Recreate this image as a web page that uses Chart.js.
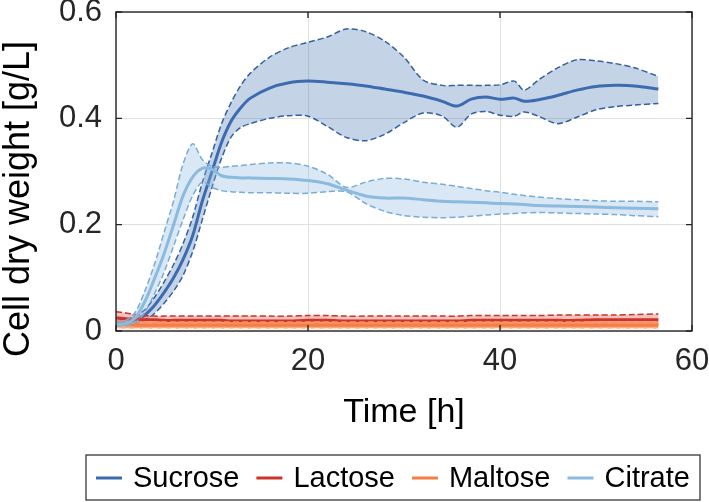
<!DOCTYPE html>
<html><head><meta charset="utf-8">
<script src="https://cdn.jsdelivr.net/npm/chart.js@4.4.0/dist/chart.umd.min.js"></script>
<style>html,body{margin:0;padding:0;background:#fff;}#wrap{width:709px;height:502px;}</style>
</head><body><div id="wrap"><canvas id="c" width="709" height="502"></canvas></div>
<script>
const seriesNames = ['Sucrose','Lactose','Maltose','Citrate'];
const xTicks = [0,20,40,60];
const yTicks = [0,0.2,0.4,0.6];
const xTitle = 'Time [h]';
const yTitle = 'Cell dry weight [g/L]';
const time = [0,1,2,3,4,5,6,7,8,9,10,11,12,13,14,16,18,20,22,24,26,28,30,32,34,35.5,37,38.5,40,41.5,42.5,44,46,48,50,52,54,56.5];

const sucroseMean  = [0.015,0.016,0.02,0.03,0.048,0.072,0.1,0.135,0.18,0.245,0.30,0.355,0.395,0.42,0.438,0.457,0.467,0.470,0.468,0.465,0.461,0.455,0.449,0.442,0.432,0.423,0.436,0.440,0.436,0.438,0.432,0.435,0.443,0.453,0.460,0.462,0.461,0.455];
const sucroseUpper = [0.02,0.022,0.028,0.04,0.063,0.092,0.125,0.165,0.215,0.28,0.335,0.39,0.43,0.462,0.485,0.515,0.533,0.543,0.553,0.568,0.563,0.545,0.515,0.472,0.462,0.462,0.462,0.462,0.463,0.47,0.453,0.472,0.495,0.51,0.508,0.503,0.495,0.479];
const sucroseLower = [0.01,0.012,0.015,0.02,0.033,0.052,0.075,0.105,0.15,0.21,0.27,0.325,0.365,0.383,0.39,0.4,0.405,0.404,0.385,0.364,0.358,0.37,0.392,0.41,0.404,0.383,0.408,0.413,0.406,0.404,0.412,0.404,0.39,0.402,0.416,0.422,0.425,0.428];

const lactoseMean  = [0.025,0.023,0.022,0.021,0.021,0.02,0.02,0.02,0.02,0.02,0.02,0.02,0.019,0.019,0.019,0.019,0.019,0.02,0.02,0.019,0.019,0.019,0.019,0.019,0.019,0.019,0.02,0.02,0.02,0.02,0.02,0.02,0.02,0.02,0.021,0.021,0.021,0.021];
const lactoseUpper = [0.036,0.034,0.031,0.029,0.028,0.028,0.028,0.028,0.028,0.028,0.028,0.028,0.028,0.028,0.028,0.028,0.028,0.029,0.029,0.028,0.028,0.028,0.028,0.028,0.028,0.028,0.029,0.029,0.029,0.029,0.029,0.029,0.03,0.03,0.03,0.03,0.031,0.032];
const lactoseLower = [0.014,0.013,0.013,0.012,0.012,0.012,0.012,0.012,0.012,0.012,0.012,0.012,0.012,0.012,0.012,0.012,0.012,0.012,0.012,0.012,0.012,0.012,0.012,0.012,0.012,0.012,0.012,0.012,0.012,0.012,0.012,0.012,0.012,0.012,0.012,0.012,0.012,0.012];

const maltoseMean  = [0.013,0.012,0.011,0.011,0.011,0.011,0.011,0.011,0.011,0.011,0.011,0.011,0.011,0.011,0.011,0.011,0.011,0.011,0.011,0.011,0.011,0.011,0.011,0.011,0.011,0.011,0.011,0.011,0.011,0.011,0.011,0.011,0.011,0.011,0.011,0.011,0.011,0.011];
const maltoseUpper = [0.02,0.018,0.017,0.017,0.017,0.017,0.017,0.017,0.017,0.017,0.017,0.017,0.017,0.017,0.017,0.017,0.017,0.017,0.017,0.017,0.017,0.017,0.017,0.017,0.017,0.017,0.017,0.017,0.017,0.017,0.017,0.017,0.017,0.017,0.017,0.017,0.017,0.017];
const maltoseLower = [0.005,0.004,0.004,0.004,0.004,0.004,0.004,0.004,0.004,0.004,0.004,0.004,0.004,0.004,0.004,0.004,0.004,0.004,0.004,0.004,0.004,0.004,0.004,0.004,0.004,0.004,0.004,0.004,0.004,0.004,0.004,0.004,0.004,0.004,0.004,0.004,0.004,0.004];

const citrateMean  = [0.012,0.014,0.025,0.055,0.098,0.145,0.2,0.255,0.29,0.306,0.304,0.292,0.289,0.288,0.288,0.287,0.286,0.283,0.277,0.265,0.254,0.25,0.25,0.247,0.244,0.243,0.242,0.241,0.24,0.239,0.238,0.236,0.235,0.234,0.233,0.232,0.231,0.23];
const citrateUpper = [0.015,0.02,0.035,0.075,0.125,0.185,0.245,0.315,0.352,0.322,0.31,0.308,0.31,0.311,0.313,0.316,0.316,0.31,0.295,0.27,0.28,0.287,0.286,0.28,0.276,0.272,0.268,0.264,0.261,0.257,0.255,0.252,0.249,0.247,0.245,0.244,0.244,0.243];
const citrateLower = [0.01,0.01,0.015,0.035,0.07,0.11,0.16,0.21,0.255,0.28,0.27,0.264,0.262,0.261,0.26,0.26,0.259,0.259,0.262,0.262,0.24,0.225,0.217,0.214,0.213,0.214,0.216,0.218,0.22,0.221,0.222,0.223,0.222,0.221,0.22,0.219,0.217,0.215];

const FONT = "'Liberation Sans', Arial, sans-serif";
const pts = arr => time.map((t,i)=>({x:t,y:arr[i]}));

const styles = {
  Sucrose: {line:'#3d6bb0', dash:'#35609f', band:'rgba(62,108,176,0.30)', dashLow:'#35609f'},
  Lactose: {line:'#cc3329', dash:'#cc3329', band:'rgba(214,60,50,0.32)', dashLow:'#cc3329'},
  Maltose: {line:'#f47f45', dash:'#f7925e', band:'rgba(248,140,85,0.75)', dashLow:'#fde3d3'},
  Citrate: {line:'#8cb9de', dash:'#78acd7', band:'rgba(140,185,222,0.33)', dashLow:'#78acd7'}
};
const dataSets = {
  Sucrose: [sucroseMean, sucroseUpper, sucroseLower],
  Lactose: [lactoseMean, lactoseUpper, lactoseLower],
  Maltose: [maltoseMean, maltoseUpper, maltoseLower],
  Citrate: [citrateMean, citrateUpper, citrateLower]
};

const datasets = [];
seriesNames.forEach((name, k) => {
  const s = styles[name], [m,u,l] = dataSets[name];
  const base = 100 - k*10;
  datasets.push({label:name+' upper', data:pts(u), borderColor:s.dash, borderWidth:1.5, borderDash:[6,3],
    backgroundColor:s.band, fill:'+1', pointRadius:0, tension:0.3, order:base, isBand:true});
  datasets.push({label:name+' lower', data:pts(l), borderColor:s.dashLow, borderWidth:1.5, borderDash:[6,3],
    fill:false, pointRadius:0, tension:0.3, order:base-1, isBand:true});
  datasets.push({label:name, data:pts(m), borderColor:s.line, borderWidth:3, fill:false,
    pointRadius:0, tension:0.3, order:base-2, isMean:true});
});

const framePlugin = {
  id:'frame',
  afterDraw(chart){
    const {ctx, chartArea:a, scales:{x,y}} = chart;
    ctx.save();
    ctx.strokeStyle='#262626'; ctx.lineWidth=1.4;
    ctx.strokeRect(a.left, a.top, a.right-a.left, a.bottom-a.top);
    const tl=6;
    ctx.beginPath();
    x.ticks.forEach(t=>{const p=x.getPixelForValue(t.value);
      ctx.moveTo(p,a.bottom); ctx.lineTo(p,a.bottom-tl); ctx.moveTo(p,a.top); ctx.lineTo(p,a.top+tl);});
    y.ticks.forEach(t=>{const p=y.getPixelForValue(t.value);
      ctx.moveTo(a.left,p); ctx.lineTo(a.left+tl,p); ctx.moveTo(a.right,p); ctx.lineTo(a.right-tl,p);});
    ctx.stroke();
    // y axis title
    ctx.save();
    ctx.translate(19, 199); ctx.rotate(-Math.PI/2);
    ctx.font = "36px "+FONT; ctx.fillStyle='#000'; ctx.textAlign='center'; ctx.textBaseline='middle';
    ctx.fillText(yTitle, 0, 0);
    ctx.restore();
    // legend
    const bx=86, by=455, bw=614, bh=45;
    ctx.fillStyle='#fff'; ctx.fillRect(bx,by,bw,bh);
    ctx.lineWidth=1.2; ctx.strokeStyle='#262626'; ctx.strokeRect(bx,by,bw,bh);
    ctx.font = "29px "+FONT; ctx.textBaseline='middle'; ctx.textAlign='left';
    let cx = 96; const cy = 478;
    chart.data.datasets.filter(d=>d.isMean).forEach(d=>{
      ctx.strokeStyle=d.borderColor; ctx.lineWidth=3; ctx.setLineDash([]);
      ctx.beginPath(); ctx.moveTo(cx,cy); ctx.lineTo(cx+26,cy); ctx.stroke();
      cx += 37;
      ctx.fillStyle='#000'; ctx.fillText(d.label, cx, cy+1);
      cx += ctx.measureText(d.label).width + 17;
    });
    ctx.restore();
  }
};

new Chart(document.getElementById('c'), {
  type:'line',
  data:{datasets},
  options:{
    responsive:false, animation:false, devicePixelRatio:1,
    layout:{padding:{top:12,right:17,left:0,bottom:69}},
    plugins:{legend:{display:false}, tooltip:{enabled:false}},
    scales:{
      x:{type:'linear', min:0, max:60,
        afterBuildTicks: s=>{ s.ticks = xTicks.map(v=>({value:v})); },
        afterFit: s=>{ s.height = 102; s.paddingLeft = 0; s.paddingRight = 0; },
        ticks:{font:{size:31,family:FONT}, color:'#262626', padding:12},
        grid:{color:'#e0e0e0', lineWidth:1, drawTicks:false},
        border:{display:false},
        title:{display:true, text:xTitle, font:{size:34,family:FONT}, color:'#000', padding:{top:10,bottom:0}}
      },
      y:{min:0, max:0.6,
        afterBuildTicks: s=>{ s.ticks = yTicks.map(v=>({value:v})); },
        afterFit: s=>{ s.width = 116; s.paddingTop = 0; s.paddingBottom = 0; },
        ticks:{font:{size:31,family:FONT}, color:'#262626', padding:14,
          callback:v=> v===0 ? '0' : v.toFixed(1)},
        grid:{color:'#e0e0e0', lineWidth:1, drawTicks:false},
        border:{display:false},
        title:{display:false}
      }
    }
  },
  plugins:[framePlugin]
});
</script></body></html>
